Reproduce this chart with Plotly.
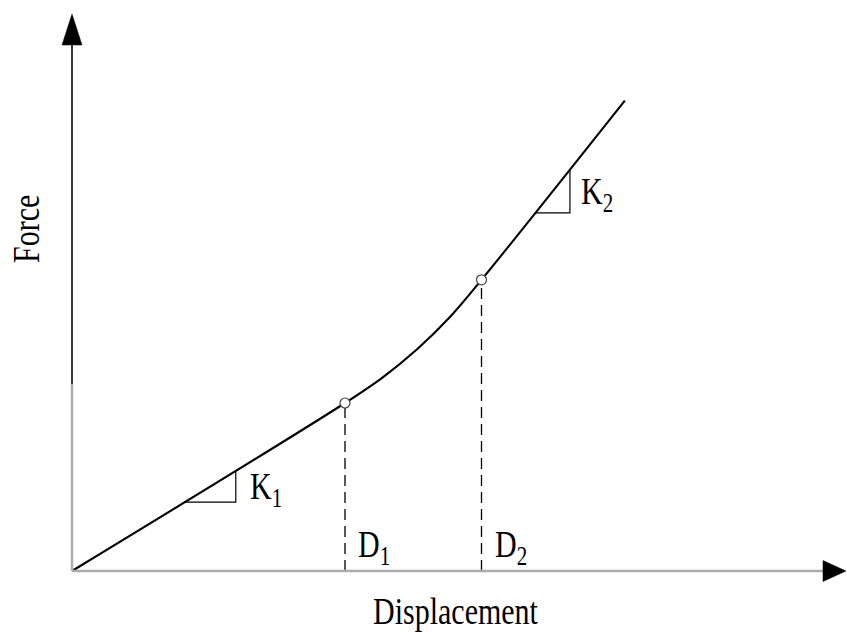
import plotly.graph_objects as go

# Force-displacement curve (bilinear with a curved transition)
displacement = [0.0, 10.0, 11.36, 12.65, 13.87, 15.0, 20.25]
force = [0.0, 6.0, 6.9, 7.93, 9.1, 10.4, 16.8]

# Breakpoints D1 and D2
break_disp = [10.0, 15.0]
break_force = [6.0, 10.4]
break_labels = ["D<sub>1</sub>", "D<sub>2</sub>"]

# Slope triangles: horizontal run along each linear branch
k1_run = [4.1, 6.0]
k2_run = [16.96, 18.24]
slope_labels = ["K<sub>1</sub>", "K<sub>2</sub>"]

FONT = "Liberation Serif"
FSIZE = 30
W, H = 847, 632
PX_X, PX_Y = 27.3, 28.0        # pixels per unit
X0 = -72 / PX_X
Y0 = -61 / PX_Y
X1 = X0 + W / PX_X
Y1 = Y0 + H / PX_Y


def ux(px):
    """horizontal pixel offset from the left edge -> data x"""
    return (px - 72) / PX_X


def uy(py):
    """vertical pixel offset from the top edge -> data y"""
    return (571 - py) / PX_Y


fig = go.Figure()

# dashed drop lines at the breakpoints
for d, f in zip(break_disp, break_force):
    fig.add_trace(go.Scatter(x=[d, d], y=[0, f], mode="lines",
                             line=dict(color="black", width=1.3, dash="11px,6px"),
                             hoverinfo="skip"))

# slope triangles
k1 = break_force[0] / break_disp[0]
k2 = (force[-1] - break_force[1]) / (displacement[-1] - break_disp[1])
tri1_y = [k1 * k1_run[0], k1 * k1_run[1]]
tri2_y = [break_force[1] + k2 * (k2_run[0] - break_disp[1]),
          break_force[1] + k2 * (k2_run[1] - break_disp[1])]
for run, ys in ((k1_run, tri1_y), (k2_run, tri2_y)):
    fig.add_trace(go.Scatter(x=[run[0], run[1], run[1]], y=[ys[0], ys[0], ys[1]],
                             mode="lines", line=dict(color="black", width=1.2),
                             hoverinfo="skip"))

# main curve
fig.add_trace(go.Scatter(x=displacement, y=force, mode="lines",
                         line=dict(color="black", width=2.1, shape="spline", smoothing=1),
                         hoverinfo="skip"))

# breakpoint markers
fig.add_trace(go.Scatter(x=break_disp, y=break_force, mode="markers",
                         marker=dict(size=10, color="white",
                                     line=dict(color="#444", width=1.2)),
                         hoverinfo="skip"))

# axes drawn by hand with arrowheads
y_tip, y_base, y_split = uy(14), uy(45), uy(384)
x_tip, x_base = ux(846), ux(823)
hw_x = 10 / PX_X
hw_y = 10.5 / PX_Y

shapes = [
    dict(type="line", x0=0, y0=0, x1=x_base, y1=0, line=dict(color="#ababab", width=2.5)),
    dict(type="line", x0=0, y0=0, x1=0, y1=y_split, line=dict(color="#b0b0b0", width=2.5)),
    dict(type="line", x0=0, y0=y_split, x1=0, y1=y_base, line=dict(color="#3a3a3a", width=2)),
    dict(type="path",
         path=f"M {-hw_x} {y_base} L {hw_x} {y_base} L 0 {y_tip} Z",
         fillcolor="black", line=dict(color="black", width=0.5)),
    dict(type="path",
         path=f"M {x_base} {-hw_y} L {x_base} {hw_y} L {x_tip} 0 Z",
         fillcolor="black", line=dict(color="black", width=0.5)),
]
for s in shapes:
    s.update(xref="x", yref="y", layer="above")

font = dict(family=FONT, size=FSIZE, color="black")
annotations = [
    dict(x=ux(456), y=uy(610), text="Displacement", showarrow=False, font=font),
    dict(x=ux(25), y=uy(229), text="Force", textangle=-90, showarrow=False, font=font),
]
for d, lab in zip(break_disp, break_labels):
    annotations.append(dict(x=d + 11 / PX_X, y=uy(547), text=lab,
                            xanchor="left", showarrow=False, font=font))
annotations.append(dict(x=ux(248), y=uy(489), text=slope_labels[0],
                        xanchor="left", showarrow=False, font=font))
annotations.append(dict(x=ux(579), y=uy(194), text=slope_labels[1],
                        xanchor="left", showarrow=False, font=font))

fig.update_layout(
    width=W, height=H,
    margin=dict(l=0, r=0, t=0, b=0),
    paper_bgcolor="white", plot_bgcolor="white",
    showlegend=False,
    xaxis=dict(range=[X0, X1], visible=False, fixedrange=True),
    yaxis=dict(range=[Y0, Y1], visible=False, fixedrange=True),
    shapes=shapes,
    annotations=annotations,
)

# taller, narrower serif lettering
tall_text = (
    "var st=document.createElement('style');"
    "st.textContent='.annotation-text{transform-box:fill-box;"
    "transform-origin:center;transform:scaleY(1.25);}';"
    "document.head.appendChild(st);"
)

fig.write_html("out.html", post_script=tall_text)
